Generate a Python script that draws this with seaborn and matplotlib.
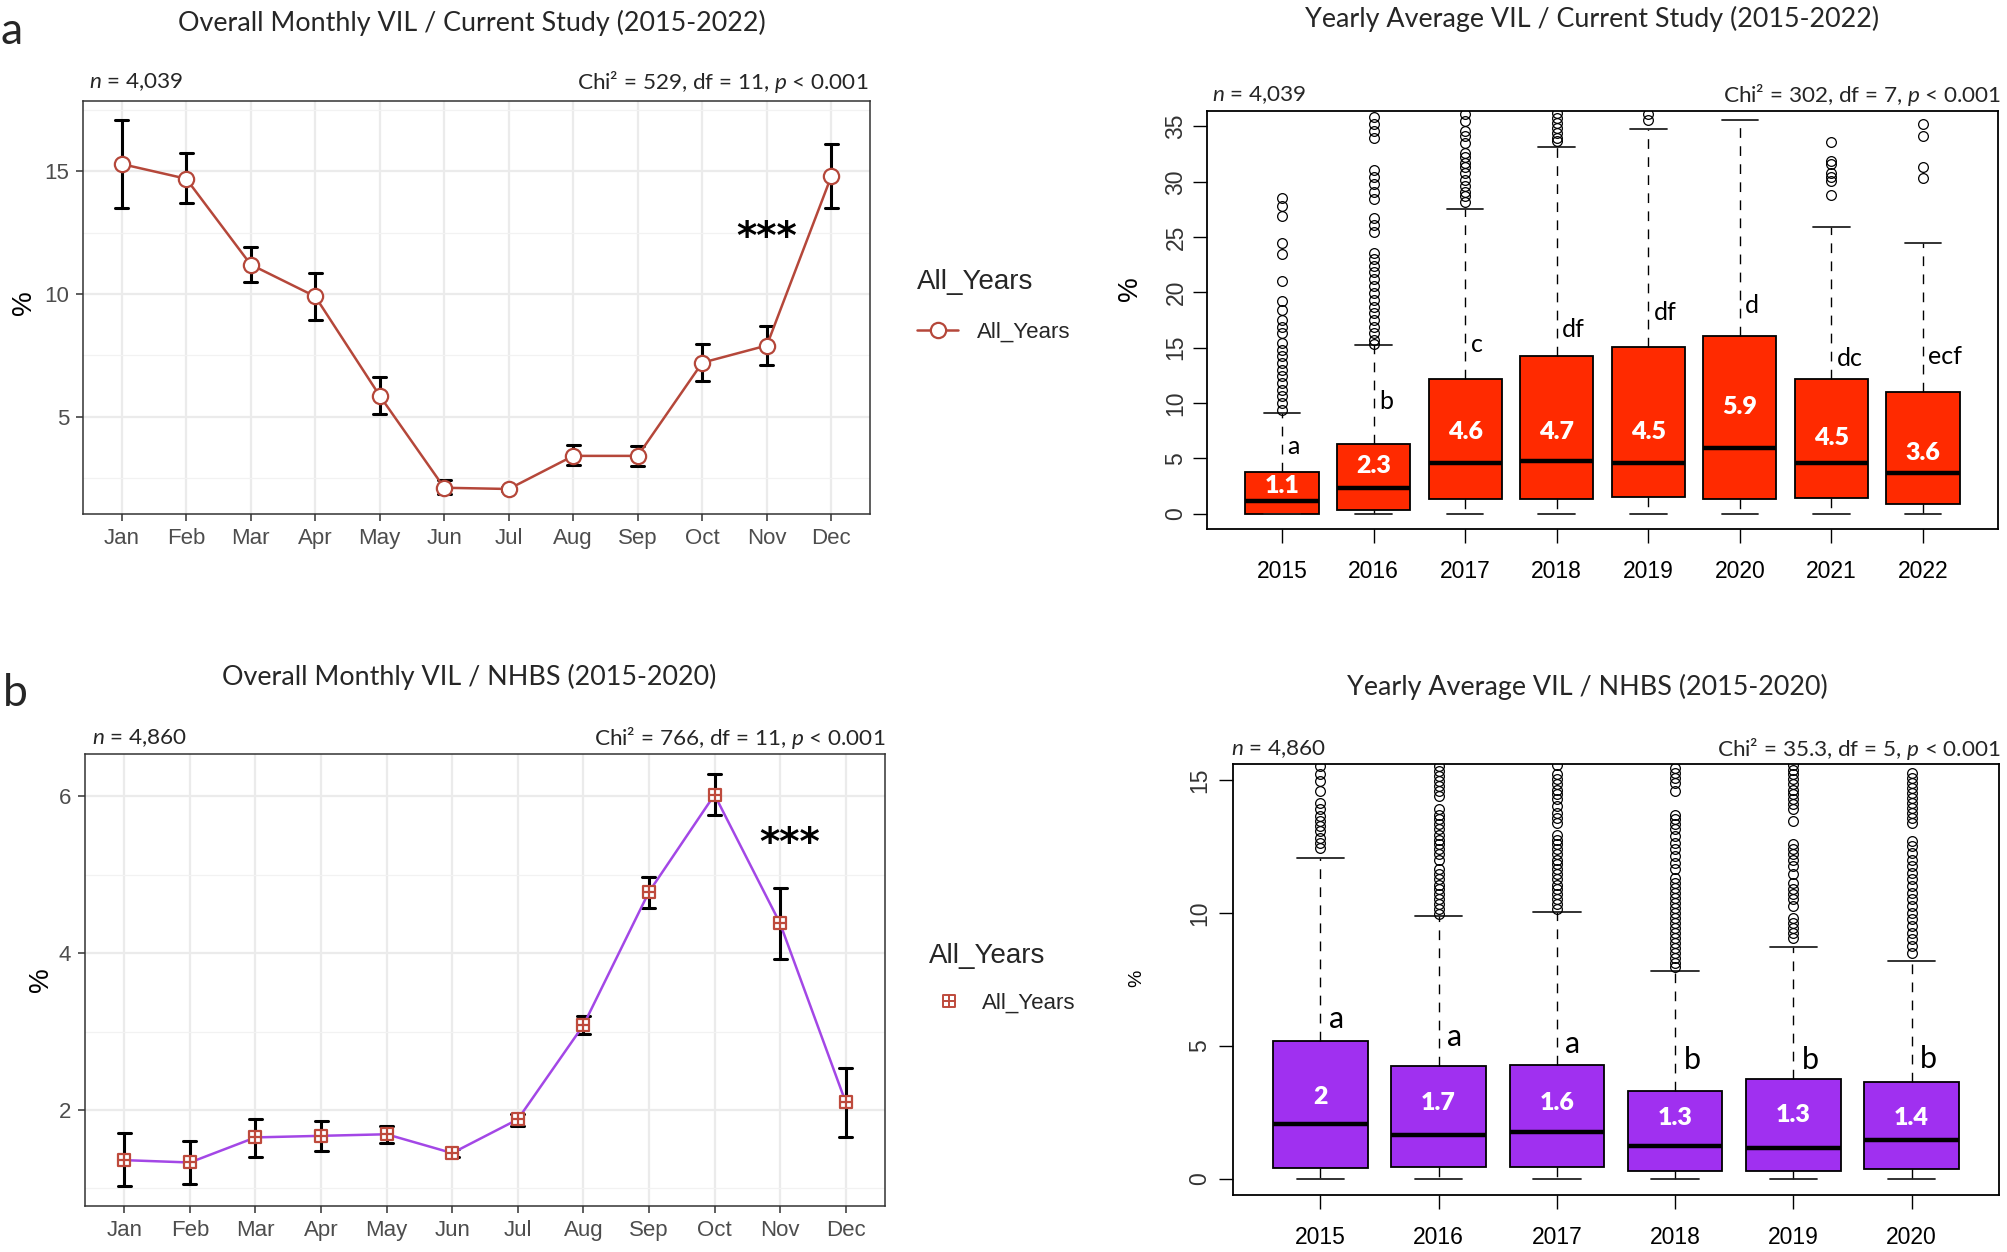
import numpy as np
import pandas as pd
import matplotlib
matplotlib.use("Agg")
import matplotlib.pyplot as plt
import seaborn as sns
from matplotlib.path import Path
from matplotlib.lines import Line2D

# ---------------- data ----------------
months = ["Jan", "Feb", "Mar", "Apr", "May", "Jun", "Jul", "Aug", "Sep", "Oct", "Nov", "Dec"]

cur_month_pct = [15.3, 14.7, 11.2, 9.9, 5.85, 2.1, 2.05, 3.4, 3.4, 7.2, 7.9, 14.8]
cur_month_lo = [13.5, 13.7, 10.5, 8.95, 5.1, 1.85, 1.97, 3.02, 3.0, 6.47, 7.12, 13.5]
cur_month_hi = [17.1, 15.73, 11.93, 10.86, 6.6, 2.4, 2.13, 3.84, 3.8, 7.97, 8.7, 16.12]

nhbs_month_pct = [1.36, 1.33, 1.65, 1.67, 1.69, 1.45, 1.88, 3.08, 4.78, 6.02, 4.38, 2.10]
nhbs_month_lo = [1.03, 1.06, 1.40, 1.48, 1.58, 1.40, 1.79, 2.97, 4.58, 5.76, 3.93, 1.65]
nhbs_month_hi = [1.70, 1.61, 1.88, 1.86, 1.80, 1.50, 1.95, 3.20, 4.97, 6.28, 4.83, 2.53]

cur_years = ["2015", "2016", "2017", "2018", "2019", "2020", "2021", "2022"]
cur_q1 = [0.0, 0.35, 1.32, 1.32, 1.49, 1.32, 1.38, 0.87]
cur_med = [1.14, 2.35, 4.60, 4.74, 4.53, 5.92, 4.60, 3.63]
cur_q3 = [3.74, 6.33, 12.15, 14.23, 15.06, 16.03, 12.20, 11.00]
cur_whishi = [9.1, 15.2, 27.55, 33.16, 34.79, 35.58, 25.9, 24.44]
cur_fliers = [
    [28.5, 27.8, 26.9, 24.5, 23.5, 21.0, 19.2, 18.4, 17.5, 16.9, 16.3, 15.4, 14.8,
     14.2, 13.6, 13.0, 12.4, 11.8, 11.2, 10.6, 10.0, 9.4],
    [35.9, 35.2, 34.6, 34.0, 31.1, 30.4, 29.8, 29.1, 28.4, 26.7, 26.1, 25.5, 23.6,
     23.0, 22.4, 21.8, 21.2, 20.6, 19.9, 19.3, 18.7, 18.1, 17.5, 16.9, 16.3, 15.7, 15.3],
    [36.1, 35.5, 34.6, 34.1, 33.5, 32.6, 32.2, 31.7, 31.3, 30.8, 30.2, 29.6, 29.1,
     28.7, 28.2],
    [36.2, 35.8, 35.3, 34.9, 34.4, 34.0, 33.7],
    [36.1, 35.6],
    [],
    [33.6, 31.9, 31.6, 30.8, 30.4, 30.1, 28.8],
    [35.2, 34.1, 31.3, 30.3],
]
cur_median_labels = ["1.1", "2.3", "4.6", "4.7", "4.5", "5.9", "4.5", "3.6"]
cur_letters = ["a", "b", "c", "df", "df", "d", "dc", "ecf"]
cur_median_label_y = [2.46, 4.26, 7.37, 7.37, 7.37, 9.6, 6.85, 5.47]
cur_letter_y = [6.06, 10.14, 15.3, 16.65, 18.2, 18.8, 14.0, 14.2]

nhbs_years = ["2015", "2016", "2017", "2018", "2019", "2020"]
nhbs_q1 = [0.40, 0.46, 0.45, 0.32, 0.32, 0.39]
nhbs_med = [2.06, 1.66, 1.76, 1.25, 1.18, 1.46]
nhbs_q3 = [5.19, 4.25, 4.30, 3.32, 3.75, 3.63]
nhbs_whishi = [12.07, 9.88, 10.04, 7.82, 8.73, 8.19]
nhbs_fliers = [
    [15.52, 15.21, 14.96, 14.58, 14.14, 13.89, 13.64, 13.45, 13.26, 13.08, 12.83, 12.64, 12.45],
    [15.52, 15.33, 15.14, 14.96, 14.77, 14.58, 14.39, 13.89, 13.70, 13.52, 13.33, 13.14,
     12.95, 12.76, 12.58, 12.39, 12.20, 12.01, 11.64, 11.45, 11.26, 11.07, 10.89, 10.70,
     10.51, 10.32, 10.14, 9.98],
    [15.58, 15.21, 15.02, 14.83, 14.64, 14.46, 14.27, 14.02, 13.77, 13.58, 13.39, 12.95,
     12.76, 12.58, 12.39, 12.20, 12.01, 11.83, 11.64, 11.45, 11.26, 11.07, 10.89, 10.70,
     10.51, 10.32, 10.14],
    [15.46, 15.27, 15.08, 14.89, 14.58, 13.70, 13.52, 13.33, 13.14, 12.89, 12.64, 12.39,
     12.14, 11.89, 11.64, 11.33, 11.14, 10.95, 10.76, 10.57, 10.39, 10.20, 10.01, 9.82,
     9.64, 9.45, 9.26, 9.07, 8.88, 8.69, 8.50, 8.32, 8.13, 7.98],
    [15.58, 15.39, 15.21, 15.02, 14.83, 14.64, 14.46, 14.27, 14.08, 13.89, 13.45, 12.58,
     12.39, 12.20, 12.01, 11.76, 11.45, 11.14, 10.89, 10.70, 10.51, 10.26, 9.82, 9.64,
     9.45, 9.26, 9.07],
    [15.27, 15.08, 14.89, 14.71, 14.52, 14.33, 14.14, 13.95, 13.77, 13.58, 13.39, 12.70,
     12.51, 12.26, 12.01, 11.76, 11.51, 11.26, 11.01, 10.76, 10.51, 10.26, 10.01, 9.76,
     9.51, 9.26, 9.01, 8.76, 8.51],
]
nhbs_median_labels = ["2", "1.7", "1.6", "1.3", "1.3", "1.4"]
nhbs_letters = ["a", "a", "a", "b", "b", "b"]
nhbs_median_label_y = [3.1, 2.84, 2.84, 2.28, 2.41, 2.28]
nhbs_letter_y = [6.03, 5.34, 5.08, 4.47, 4.47, 4.5]

# ---------------- style ----------------
sns.set_theme(style="white")
plt.rcParams["font.family"] = ["Liberation Sans", "DejaVu Sans"]
plt.rcParams["mathtext.fontset"] = "custom"
plt.rcParams["mathtext.rm"] = "Lato"
plt.rcParams["mathtext.it"] = "Lato:italic"
plt.rcParams["mathtext.bf"] = "Lato:bold"
CAL = ["Lato", "DejaVu Sans"]

W, H = 2007, 1252
fig = plt.figure(figsize=(W / 100, H / 100), dpi=100)
fig.patch.set_facecolor("white")


def fx(px):
    return px / W


def fy(py):
    return 1 - py / H


def rect(l, t, r, b):
    return [fx(l), fy(b), (r - l) / W, (b - t) / H]


sq_plus = Path(
    [(-1, -1), (1, -1), (1, 1), (-1, 1), (-1, -1), (0, -1), (0, 1), (-1, 0), (1, 0)],
    [Path.MOVETO, Path.LINETO, Path.LINETO, Path.LINETO, Path.CLOSEPOLY,
     Path.MOVETO, Path.LINETO, Path.MOVETO, Path.LINETO],
)


def line_panel(box, vals, lo, hi, line_color, marker, ms, mec, ylim, major, minor,
               star_x, star_y, ylab_xy, legend_anchor, legend_line, hlen, hpad, lspace):
    ax = fig.add_axes(rect(*box))
    err_df = pd.DataFrame({
        "month": np.repeat(months, 3),
        "pct": np.column_stack([lo, vals, hi]).ravel(),
    })
    sns.pointplot(data=err_df, x="month", y="pct", order=months, estimator="median",
                  errorbar=lambda s: (s.min(), s.max()), capsize=0.2, color="black",
                  marker="none", linestyle="none",
                  err_kws={"linestyle": "-", "linewidth": 2.2, "color": "black", "zorder": 3},
                  ax=ax, zorder=3)
    val_df = pd.DataFrame({"month": months, "pct": vals})
    sns.pointplot(data=val_df, x="month", y="pct", order=months, errorbar=None,
                  color=line_color, marker=marker, markersize=ms, markerfacecolor="white",
                  markeredgecolor=mec, markeredgewidth=1.6, linewidth=1.8,
                  ax=ax, zorder=4)
    ax.set_xlim(-0.6, 11.6)
    ax.set_ylim(*ylim)
    ax.set_yticks(major)
    ax.set_yticklabels([f"{v:g}" for v in major])
    ax.set_yticks(minor, minor=True)
    ax.set_axisbelow(True)
    ax.grid(True, which="major", color="#EBEBEB", linewidth=1.6)
    ax.grid(True, which="minor", axis="y", color="#F2F2F2", linewidth=0.9)
    ax.set_facecolor("white")
    for s in ax.spines.values():
        s.set_visible(True)
        s.set_color("#333333")
        s.set_linewidth(1.1)
    ax.tick_params(axis="both", which="major", direction="out", length=5, width=1.1,
                   color="#333333", labelcolor="#4D4D4D", labelsize=16, pad=5,
                   bottom=True, left=True)
    ax.tick_params(which="minor", length=0)
    ax.set_xlabel("")
    ax.set_ylabel("%", fontsize=20, color="black")
    ax.yaxis.set_label_coords(*ylab_xy)
    ax.text(star_x, star_y, "***", fontsize=28, fontweight="bold", ha="center",
            va="center", family=["DejaVu Sans"], color="black")
    if legend_line:
        h = Line2D([], [], color=line_color, marker=marker, markersize=ms,
                   markerfacecolor="white", markeredgecolor=mec, markeredgewidth=1.6,
                   linewidth=1.8)
    else:
        h = Line2D([], [], color=mec, marker=marker, markersize=ms * 0.95,
                   markerfacecolor="white", markeredgecolor=mec, markeredgewidth=1.4,
                   linestyle="none")
    ax.legend(handles=[h], labels=["All_Years"], title="All_Years",
              loc="upper left", bbox_to_anchor=(fx(legend_anchor[0]), fy(legend_anchor[1])),
              bbox_transform=fig.transFigure, frameon=False, fontsize=16,
              title_fontsize=20, borderpad=0, handlelength=hlen, handletextpad=hpad,
              labelspacing=lspace, alignment="left")
    return ax


def box_panel(box, years, q1, med, q3, whishi, fliers, color, ylim, yticks,
              med_labels, med_label_y, letters, letter_y, letter_size, letter_dx,
              ylab_size, ylab_xy, xpad, ypad):
    ax = fig.add_axes(rect(*box))
    n = len(years)
    pos = np.arange(1, n + 1)
    stats = [dict(label=years[i], q1=q1[i], med=med[i], q3=q3[i], whislo=0.0,
                  whishi=whishi[i], fliers=np.array(fliers[i])) for i in range(n)]
    ax.bxp(stats, positions=pos, widths=0.8, capwidths=0.4, patch_artist=True,
           showfliers=True,
           boxprops=dict(facecolor=color, edgecolor="black", linewidth=1.3),
           medianprops=dict(color="black", linewidth=3.2, solid_capstyle="butt"),
           whiskerprops=dict(color="black", linewidth=1.0, linestyle=(0, (7, 6))),
           capprops=dict(color="#222222", linewidth=1.3),
           flierprops=dict(marker="o", markerfacecolor="none", markeredgecolor="black",
                           markersize=7, markeredgewidth=0.9, linestyle="none"))
    pad = 0.04 * n
    ax.set_xlim(0.5 - pad, n + 0.5 + pad)
    ax.set_ylim(*ylim)
    ax.set_xticks(pos)
    ax.set_xticklabels(years)
    ax.set_yticks(yticks)
    ax.set_yticklabels([str(v) for v in yticks], rotation=90, va="center")
    ax.grid(False)
    ax.set_facecolor("white")
    for s in ax.spines.values():
        s.set_visible(True)
        s.set_color("black")
        s.set_linewidth(1.3)
    ax.tick_params(axis="x", direction="out", length=10, width=1.0, color="black",
                   labelcolor="black", labelsize=16.5, pad=xpad, bottom=True)
    ax.tick_params(axis="y", direction="out", length=10, width=1.0, color="black",
                   labelcolor="#333333", labelsize=16.5, pad=ypad, left=True)
    for i in range(n):
        ax.text(pos[i], med_label_y[i], med_labels[i], color="white", fontsize=18,
                fontweight="heavy", family=CAL, ha="center", va="center")
        ax.text(pos[i] + letter_dx, letter_y[i], letters[i], color="black",
                fontsize=letter_size, family=CAL, ha="left", va="center")
    ax.set_xlabel("")
    ax.set_ylabel("%", fontsize=ylab_size, color="black")
    ax.yaxis.set_label_coords(*ylab_xy)
    return ax


# ---------------- panels ----------------
ax1 = line_panel((83, 101, 870, 514), cur_month_pct, cur_month_lo, cur_month_hi,
                 "#B5473A", "o", 11, "#B5473A", (1.03, 17.87), [5, 10, 15],
                 [2.5, 7.5, 12.5, 17.5], 10, 12.3, (-0.059, 0.513), (906, 258), True,
                 1.85, 0.85, 1.2)

ax3 = line_panel((85, 754, 885, 1206), nhbs_month_pct, nhbs_month_lo, nhbs_month_hi,
                 "#A347E6", sq_plus, 9, "#BE4A3C", (0.775, 6.54), [2, 4, 6],
                 [1, 3, 5], 10.15, 5.39, (-0.039, 0.5), (918, 932), False,
                 1.8, 0.6, 1.05)

ax2 = box_panel((1207, 111, 1998, 529), cur_years, cur_q1, cur_med, cur_q3, cur_whishi,
                cur_fliers, "#FF2A00", (-1.4, 36.4), [0, 5, 10, 15, 20, 25, 30, 35],
                cur_median_labels, cur_median_label_y, cur_letters, cur_letter_y, 18,
                0.06, 20, (-0.081, 0.574), 12, 4)

ax4 = box_panel((1233, 764, 1999, 1195), nhbs_years, nhbs_q1, nhbs_med, nhbs_q3,
                nhbs_whishi, nhbs_fliers, "#A030F0", (-0.6, 15.6), [0, 5, 10, 15],
                nhbs_median_labels, nhbs_median_label_y, nhbs_letters, nhbs_letter_y, 22,
                0.07, 14, (-0.115, 0.503), 12, 6)

# ---------------- text ----------------
fig.text(fx(472), fy(23), "Overall Monthly VIL / Current Study (2015-2022)", fontsize=19.4,
         family=CAL, ha="center", va="center")
fig.text(fx(1592), fy(19), "Yearly Average VIL / Current Study (2015-2022)", fontsize=19.4,
         family=CAL, ha="center", va="center")
fig.text(fx(469), fy(677), "Overall Monthly VIL / NHBS (2015-2020)", fontsize=19.4,
         family=CAL, ha="center", va="center")
fig.text(fx(1587), fy(687), "Yearly Average VIL / NHBS (2015-2020)", fontsize=19.4,
         family=CAL, ha="center", va="center")

fig.text(fx(1), fy(31), "a", fontsize=32, family=CAL, ha="left", va="center")
fig.text(fx(3), fy(694), "b", fontsize=32, family=CAL, ha="left", va="center")

stat_texts = [
    (89, 82, r"$n$ = 4,039", "left"),
    (868, 82, r"Chi² = 529, df = 11, $p$ < 0.001", "right"),
    (1212, 95, r"$n$ = 4,039", "left"),
    (2001, 95, r"Chi² = 302, df = 7, $p$ < 0.001", "right"),
    (92, 738, r"$n$ = 4,860", "left"),
    (885, 738, r"Chi² = 766, df = 11, $p$ < 0.001", "right"),
    (1231, 749, r"$n$ = 4,860", "left"),
    (2001, 749, r"Chi² = 35.3, df = 5, $p$ < 0.001", "right"),
]
for x, y, s, ha in stat_texts:
    fig.text(fx(x), fy(y), s, fontsize=16.2, family=CAL, ha=ha, va="center")

fig.savefig("out.png", dpi=100, facecolor="white")
